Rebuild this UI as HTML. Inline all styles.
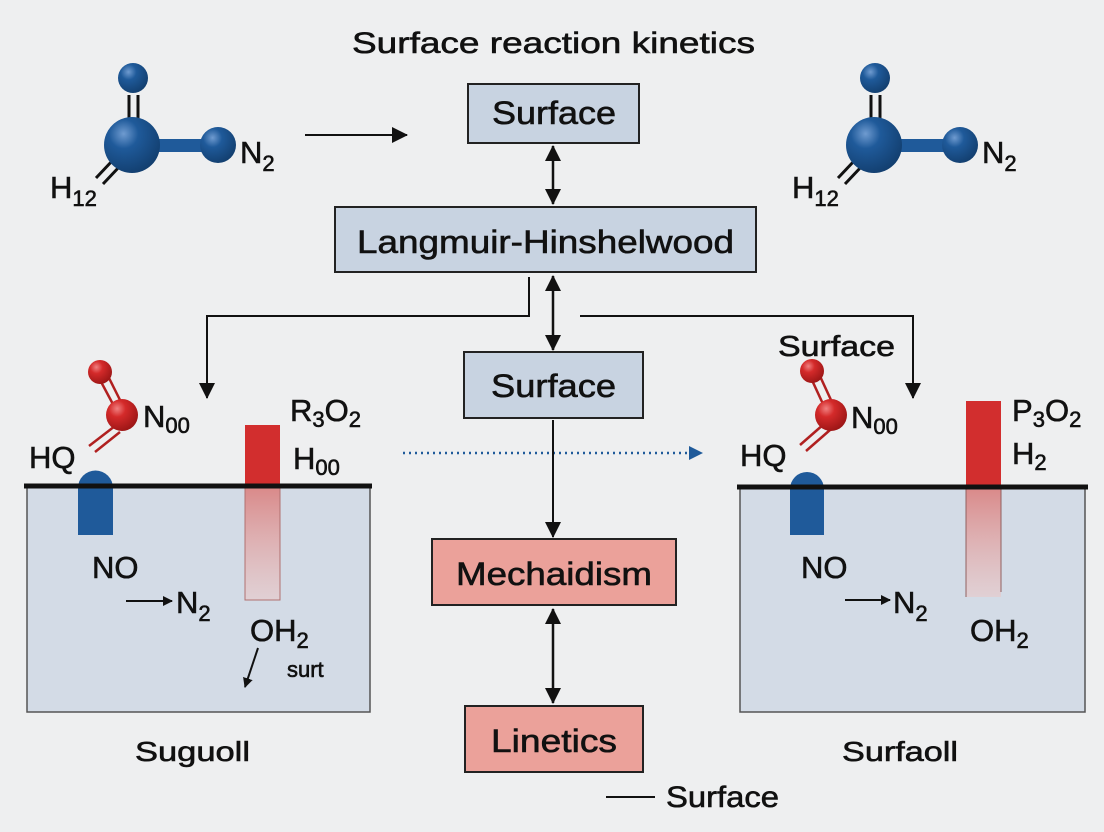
<!DOCTYPE html>
<html><head><meta charset="utf-8"><style>
body{margin:0;background:#eeeff0;}
svg{display:block;font-family:"Liberation Sans",sans-serif;}
text{fill:#111;stroke:#111;stroke-width:0.6px;}
</style></head><body>
<svg width="1104" height="832" viewBox="0 0 1104 832">
<defs>
<radialGradient id="bl" cx="0.35" cy="0.3" r="0.75"><stop offset="0" stop-color="#6f9bd0"/><stop offset="0.35" stop-color="#1f5a9a"/><stop offset="1" stop-color="#123e6e"/></radialGradient>
<radialGradient id="rd" cx="0.35" cy="0.3" r="0.75"><stop offset="0" stop-color="#f08080"/><stop offset="0.35" stop-color="#d42a2a"/><stop offset="1" stop-color="#9a1515"/></radialGradient>
<linearGradient id="fade" x1="0" y1="0" x2="0" y2="1"><stop offset="0" stop-color="#d98888"/><stop offset="1" stop-color="#e8c8c8" stop-opacity="0.6"/></linearGradient>
<marker id="ah" markerWidth="10" markerHeight="10" refX="9" refY="5" orient="auto-start-reverse" markerUnits="userSpaceOnUse"><path d="M0,0 L10,5 L0,10 z" fill="#111"/></marker>
<marker id="ab" markerWidth="16" markerHeight="16" refX="15" refY="8" orient="auto-start-reverse" markerUnits="userSpaceOnUse"><path d="M0,0 L16,8 L0,16 z" fill="#111"/></marker>
<marker id="ablue" markerWidth="14" markerHeight="14" refX="13" refY="7" orient="auto" markerUnits="userSpaceOnUse"><path d="M0,0 L14,7 L0,14 z" fill="#1f5a9a"/></marker>
</defs>
<rect width="1104" height="832" fill="#eeeff0"/>
<text x="352" y="53" font-size="30" textLength="403" lengthAdjust="spacingAndGlyphs">Surface reaction kinetics</text>

<g id="mol">
<line x1="129" y1="95" x2="129" y2="122" stroke="#111" stroke-width="3"/>
<line x1="138" y1="95" x2="138" y2="122" stroke="#111" stroke-width="3"/>
<line x1="113" y1="160" x2="96" y2="178" stroke="#111" stroke-width="3"/>
<line x1="120" y1="166" x2="103" y2="184" stroke="#111" stroke-width="3"/>
<rect x="140" y="139" width="70" height="13" fill="#1f5a9a"/>
<circle cx="133" cy="78" r="15" fill="url(#bl)"/>
<circle cx="132" cy="145" r="28" fill="url(#bl)"/>
<circle cx="218" cy="145" r="18" fill="url(#bl)"/>
<text x="240" y="163" font-size="31">N<tspan font-size="22" dy="8">2</tspan></text>
<text x="50" y="198" font-size="31">H<tspan font-size="22" dy="8">12</tspan></text>
</g>
<use href="#mol" x="742"/>
<line x1="305" y1="135" x2="407" y2="135" stroke="#111" stroke-width="2" marker-end="url(#ab)"/>

<rect x="468" y="84" width="171" height="59" fill="#c8d3e1" stroke="#222" stroke-width="2"/>
<text x="492" y="124" font-size="32" textLength="124" lengthAdjust="spacingAndGlyphs">Surface</text>
<line x1="553" y1="146" x2="553" y2="204" stroke="#111" stroke-width="2.5" marker-start="url(#ab)" marker-end="url(#ab)"/>
<rect x="335" y="207" width="421" height="65" fill="#c8d3e1" stroke="#222" stroke-width="2"/>
<text x="357" y="253" font-size="32" textLength="377" lengthAdjust="spacingAndGlyphs">Langmuir-Hinshelwood</text>

<polyline points="529,277 529,316 207,316 207,398" fill="none" stroke="#111" stroke-width="2" marker-end="url(#ab)"/>
<polyline points="580,316 913,316 913,398" fill="none" stroke="#111" stroke-width="2" marker-end="url(#ab)"/>
<line x1="553" y1="276" x2="553" y2="350" stroke="#111" stroke-width="2.5" marker-start="url(#ab)" marker-end="url(#ab)"/>

<rect x="464" y="352" width="179" height="66" fill="#c8d3e1" stroke="#222" stroke-width="2"/>
<text x="491" y="397" font-size="32" textLength="125" lengthAdjust="spacingAndGlyphs">Surface</text>
<line x1="403" y1="453" x2="702" y2="453" stroke="#1f5a9a" stroke-width="2.5" stroke-dasharray="2,4" marker-end="url(#ablue)"/>
<line x1="553" y1="420" x2="553" y2="537" stroke="#111" stroke-width="2" marker-end="url(#ab)"/>

<rect x="432" y="539" width="244" height="66" fill="#eba19a" stroke="#222" stroke-width="2"/>
<text x="456" y="585" font-size="32" textLength="196" lengthAdjust="spacingAndGlyphs">Mechaidism</text>
<line x1="553" y1="609" x2="553" y2="703" stroke="#111" stroke-width="2.5" marker-start="url(#ab)" marker-end="url(#ab)"/>
<rect x="465" y="706" width="178" height="66" fill="#eba19a" stroke="#222" stroke-width="2"/>
<text x="491" y="752" font-size="32" textLength="126" lengthAdjust="spacingAndGlyphs">Linetics</text>
<line x1="606" y1="797" x2="655" y2="797" stroke="#111" stroke-width="2"/>
<text x="666" y="807" font-size="30" textLength="113" lengthAdjust="spacingAndGlyphs">Surface</text>

<rect x="27" y="486" width="343" height="226" fill="#d3dbe6" stroke="#555" stroke-width="1.5"/>
<path d="M78,535 V488 A17.5,17.5 0 0 1 113,488 V535 Z" fill="#1f5a9a"/>
<rect x="245" y="425" width="35" height="61" fill="#d22e2e"/>
<rect x="245" y="486" width="35" height="114" fill="url(#fade)" stroke="#b07070" stroke-width="1"/>
<line x1="24" y1="486" x2="372" y2="486" stroke="#111" stroke-width="5"/>
<line x1="99" y1="378" x2="115" y2="408" stroke="#b02020" stroke-width="2.5"/>
<line x1="107" y1="374" x2="122" y2="404" stroke="#b02020" stroke-width="2.5"/>
<line x1="89" y1="446" x2="115" y2="426" stroke="#b02020" stroke-width="2.5"/>
<line x1="95" y1="452" x2="120" y2="432" stroke="#b02020" stroke-width="2.5"/>
<circle cx="100" cy="372" r="12" fill="url(#rd)"/>
<circle cx="122" cy="415" r="16" fill="url(#rd)"/>
<text x="143" y="427" font-size="31">N<tspan font-size="22" dy="6">00</tspan></text>
<text x="29" y="468" font-size="31">HQ</text>
<text x="290" y="421" font-size="31">R<tspan font-size="22" dy="6">3</tspan><tspan dy="-6">O</tspan><tspan font-size="22" dy="6">2</tspan></text>
<text x="293" y="469" font-size="31">H<tspan font-size="22" dy="6">00</tspan></text>
<text x="92" y="578" font-size="31">NO</text>
<line x1="126" y1="601" x2="172" y2="601" stroke="#111" stroke-width="2" marker-end="url(#ah)"/>
<text x="176" y="613" font-size="31">N<tspan font-size="22" dy="8">2</tspan></text>
<text x="250" y="641" font-size="31">OH<tspan font-size="22" dy="7">2</tspan></text>
<text x="287" y="677" font-size="22">surt</text>
<line x1="258" y1="648" x2="245" y2="687" stroke="#111" stroke-width="2" marker-end="url(#ah)"/>
<text x="135" y="761" font-size="28" textLength="115" lengthAdjust="spacingAndGlyphs">Suguoll</text>

<rect x="740" y="487" width="345" height="225" fill="#d3dbe6" stroke="#555" stroke-width="1.5"/>
<path d="M790,535 V489 A17,17 0 0 1 824,489 V535 Z" fill="#1f5a9a"/>
<rect x="966" y="401" width="35" height="86" fill="#d22e2e"/>
<rect x="966" y="487" width="35" height="110" fill="url(#fade)"/>
<line x1="966" y1="487" x2="966" y2="597" stroke="#906060" stroke-width="1"/>
<line x1="1001" y1="487" x2="1001" y2="592" stroke="#906060" stroke-width="1"/>
<line x1="737" y1="487" x2="1088" y2="487" stroke="#111" stroke-width="5"/>
<line x1="811" y1="378" x2="823" y2="404" stroke="#b02020" stroke-width="2.5"/>
<line x1="819" y1="374" x2="831" y2="400" stroke="#b02020" stroke-width="2.5"/>
<line x1="800" y1="445" x2="824" y2="424" stroke="#b02020" stroke-width="2.5"/>
<line x1="806" y1="451" x2="830" y2="430" stroke="#b02020" stroke-width="2.5"/>
<circle cx="812" cy="371" r="12" fill="url(#rd)"/>
<circle cx="831" cy="415" r="16" fill="url(#rd)"/>
<text x="778" y="356" font-size="29" textLength="117" lengthAdjust="spacingAndGlyphs">Surface</text>
<text x="851" y="428" font-size="31">N<tspan font-size="22" dy="6">00</tspan></text>
<text x="740" y="466" font-size="31">HQ</text>
<text x="1012" y="421" font-size="31">P<tspan font-size="22" dy="6">3</tspan><tspan dy="-6">O</tspan><tspan font-size="22" dy="6">2</tspan></text>
<text x="1012" y="464" font-size="31">H<tspan font-size="22" dy="6">2</tspan></text>
<text x="801" y="578" font-size="31">NO</text>
<line x1="845" y1="600" x2="890" y2="600" stroke="#111" stroke-width="2" marker-end="url(#ah)"/>
<text x="893" y="613" font-size="31">N<tspan font-size="22" dy="8">2</tspan></text>
<text x="970" y="641" font-size="31">OH<tspan font-size="22" dy="7">2</tspan></text>
<text x="842" y="761" font-size="28" textLength="116" lengthAdjust="spacingAndGlyphs">Surfaoll</text>
</svg>
</body></html>
